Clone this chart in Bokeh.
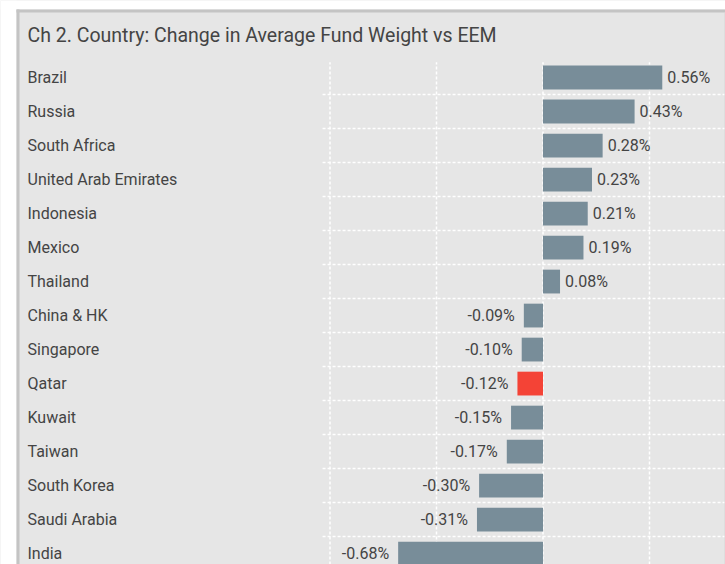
from bokeh.plotting import figure
from bokeh.models import ColumnDataSource, Range1d, BoxAnnotation, Label
from bokeh.core.properties import value
from bokeh.embed import file_html
from bokeh.resources import INLINE

# ---- data ----
countries = ["Brazil", "Russia", "South Africa", "United Arab Emirates", "Indonesia",
             "Mexico", "Thailand", "China & HK", "Singapore", "Qatar", "Kuwait",
             "Taiwan", "South Korea", "Saudi Arabia", "India"]
changes = [0.56, 0.43, 0.28, 0.23, 0.21, 0.19, 0.08, -0.09, -0.10, -0.12,
           -0.15, -0.17, -0.30, -0.31, -0.68]
highlight = "Qatar"
x_ticks = [-1.0, -0.5, 0.0, 0.5, 1.0]
title_text = "Ch 2.  Country:  Change in Average Fund Weight vs EEM"

# ---- styling ----
BG = "#e6e6e6"
BAR = "#788d99"
RED = "#f44336"
TXT = "#444444"
EDGE = "#c4c4c4"
FONT = "Roboto"

W, H = 725, 564
ZERO_PX = 542.5
PX_PER = 213.0
ROW_PX = 34.0
TOP_PX = 60.0           # pixel position of the first row's upper edge
x_start = -ZERO_PX / PX_PER
x_end = (W - ZERO_PX) / PX_PER
hgrid_start = -1.035

n = len(countries)
y_bottom = -0.32
y_rows_top = n - 0.5
y_top = y_rows_top + TOP_PX / ROW_PX

ypos = [n - 1 - i for i in range(n)]
colors = [RED if c == highlight else BAR for c in countries]
labels = [f"{v:.2f}%" for v in changes]

src = ColumnDataSource(dict(y=ypos, v=changes, c=colors, country=countries, lab=labels))
pos = ColumnDataSource(dict(
    y=[y for y, v in zip(ypos, changes) if v >= 0],
    v=[v for v in changes if v >= 0],
    lab=[l for l, v in zip(labels, changes) if v >= 0]))
neg = ColumnDataSource(dict(
    y=[y for y, v in zip(ypos, changes) if v < 0],
    v=[v for v in changes if v < 0],
    lab=[l for l, v in zip(labels, changes) if v < 0]))

p = figure(width=W, height=H,
           x_range=Range1d(x_start, x_end), y_range=Range1d(y_bottom, y_top),
           x_axis_location=None, y_axis_location=None,
           output_backend="svg", toolbar_location=None,
           min_border=0,
           background_fill_color=BG, border_fill_color=BG, outline_line_color=None)
p.xgrid.grid_line_color = None
p.ygrid.grid_line_color = None

grid_kw = dict(line_color="white", line_width=1.5, line_dash="3 2", level="underlay")
# vertical grid lines at the value ticks
p.segment(x0=x_ticks, x1=x_ticks, y0=y_bottom, y1=y_rows_top - 0.05, **grid_kw)
# horizontal grid lines between rows
bounds = [i + 0.5 for i in range(n - 1)]
p.segment(x0=hgrid_start, x1=x_end, y0=bounds, y1=bounds, **grid_kw)

p.hbar(y="y", left=0, right="v", height=0.7, fill_color="c", line_color=None, source=src)

p.text(x=x_start, y="y", text="country", x_offset=27, source=src,
       text_font=value(FONT), text_font_size="16px", text_color=TXT,
       text_align="left", text_baseline="middle")

p.text(x="v", y="y", text="lab", x_offset=5, source=pos,
       text_font=value(FONT), text_font_size="16px", text_color=TXT,
       text_align="left", text_baseline="middle")
p.text(x="v", y="y", text="lab", x_offset=-9, source=neg,
       text_font=value(FONT), text_font_size="16px", text_color=TXT,
       text_align="right", text_baseline="middle")

# title
p.add_layout(Label(x=x_start, y=y_top, x_offset=27, y_offset=-35, text=title_text,
                   text_font=FONT, text_font_size="19.5px", text_color=TXT,
                   text_align="left", text_baseline="middle"))

# outer page-like frame: white strip + grey edge lines (left, top, faint right)
cu = dict(left_units="canvas", right_units="canvas", top_units="canvas", bottom_units="canvas",
          line_color=None, fill_alpha=1.0, level="overlay")
p.add_layout(BoxAnnotation(left=0, right=16, top=0, bottom=H, fill_color="white", **cu))
p.add_layout(BoxAnnotation(left=0, right=W, top=0, bottom=9, fill_color="white", **cu))
p.add_layout(BoxAnnotation(left=16, right=19, top=9, bottom=H, fill_color=EDGE, **cu))
p.add_layout(BoxAnnotation(left=16, right=W, top=9, bottom=12, fill_color=EDGE, **cu))
p.add_layout(BoxAnnotation(left=W - 1, right=W, top=12, bottom=H, fill_color="#d6d6d6", **cu))

open("out.html", "w").write(file_html(p, INLINE))
